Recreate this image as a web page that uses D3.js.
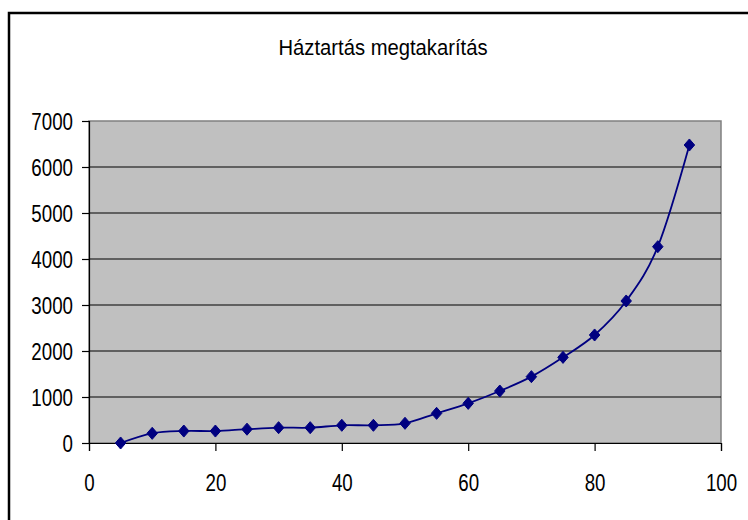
<!DOCTYPE html>
<html>
<head>
<meta charset="utf-8">
<script src="https://cdn.jsdelivr.net/npm/d3@7"></script>
<style>
  html, body { margin: 0; padding: 0; background: #fff; }
  svg { display: block; }
  text { font-family: "Liberation Sans", Arial, sans-serif; fill: #000; }
</style>
</head>
<body>
<svg id="chart" width="748" height="520"></svg>
<script>
const title = "Háztartás megtakarítás";
const xValues = [5, 10, 15, 20, 25, 30, 35, 40, 45, 50, 55, 60, 65, 70, 75, 80, 85, 90, 95];
const yValues = [0, 210, 260, 260, 300, 333, 333, 385, 385, 428, 645, 862, 1130, 1442, 1862, 2348, 3087, 4268, 6478];
const xTicks = [0, 20, 40, 60, 80, 100];
const yTicks = [0, 1000, 2000, 3000, 4000, 5000, 6000, 7000];

const svg = d3.select("#chart");
const SX = 0.78; // horizontal condensing of the tick label font

// Outer chart frame (extends beyond the window on right/bottom)
svg.append("rect")
  .attr("x", 9).attr("y", 13)
  .attr("width", 800).attr("height", 600)
  .attr("fill", "#fff").attr("stroke", "#000").attr("stroke-width", 2.5);

const plot = { left: 89, top: 121, right: 721, bottom: 443 };

const x = d3.scaleLinear().domain([0, 100]).range([plot.left, plot.right]);
const y = d3.scaleLinear().domain([0, 7000]).range([plot.bottom, plot.top]);

// Plot area
svg.append("rect")
  .attr("x", plot.left).attr("y", plot.top)
  .attr("width", plot.right - plot.left).attr("height", plot.bottom - plot.top)
  .attr("fill", "#c0c0c0").attr("stroke", "#808080").attr("stroke-width", 1.5);

// Gridlines
svg.append("g").selectAll("line")
  .data(yTicks.filter(d => d > 0 && d < 7000))
  .join("line")
  .attr("x1", plot.left).attr("x2", plot.right)
  .attr("y1", d => y(d)).attr("y2", d => y(d))
  .attr("stroke", "#000").attr("stroke-width", 1.2);

// Y axis
const yAxis = d3.axisLeft(y).tickValues(yTicks).tickSize(7).tickFormat("");
const gy = svg.append("g").attr("transform", `translate(${plot.left},0)`).call(yAxis);
gy.select(".domain").attr("stroke", "#000").attr("stroke-width", 1.2);
gy.selectAll(".tick line").attr("stroke", "#000").attr("stroke-width", 1.2);
gy.selectAll(".tick").append("text")
  .attr("transform", `translate(-16,0) scale(${SX},1)`)
  .attr("text-anchor", "end")
  .attr("dy", "0.36em")
  .attr("font-size", 24)
  .attr("fill", "#000")
  .text(d => d3.format("d")(d));

// X axis
const xAxis = d3.axisBottom(x).tickValues(xTicks).tickSize(8).tickFormat("");
const gx = svg.append("g").attr("transform", `translate(0,${plot.bottom})`).call(xAxis);
gx.select(".domain").attr("stroke", "#000").attr("stroke-width", 1.2);
gx.selectAll(".tick line").attr("stroke", "#000").attr("stroke-width", 1.2);
gx.selectAll(".tick").append("text")
  .attr("transform", `translate(0,48) scale(${SX},1)`)
  .attr("text-anchor", "middle")
  .attr("font-size", 24)
  .attr("fill", "#000")
  .text(d => d3.format("d")(d));

// Title
svg.append("text")
  .attr("transform", `translate(383,55) scale(0.92,1)`)
  .attr("text-anchor", "middle")
  .attr("font-size", 22)
  .text(title);

// Series
const data = xValues.map((v, i) => ({ x: v, y: yValues[i] }));
const line = d3.line().x(d => x(d.x)).y(d => y(d.y)).curve(d3.curveCatmullRom.alpha(0));
svg.append("path")
  .datum(data)
  .attr("d", line)
  .attr("fill", "none")
  .attr("stroke", "#000080")
  .attr("stroke-width", 1.8);

const diamondType = {
  draw(ctx, size) {
    const r = Math.sqrt(size) / 2;
    ctx.moveTo(0, -r * 1.15);
    ctx.lineTo(r, 0);
    ctx.lineTo(0, r * 1.15);
    ctx.lineTo(-r, 0);
    ctx.closePath();
  }
};
const diamond = d3.symbol().type(diamondType).size(110);
svg.append("g").selectAll("path")
  .data(data)
  .join("path")
  .attr("transform", d => `translate(${x(d.x)},${y(d.y)})`)
  .attr("d", diamond)
  .attr("fill", "#000080")
  .attr("stroke", "#000080")
  .attr("stroke-width", 1);
</script>
</body>
</html>
